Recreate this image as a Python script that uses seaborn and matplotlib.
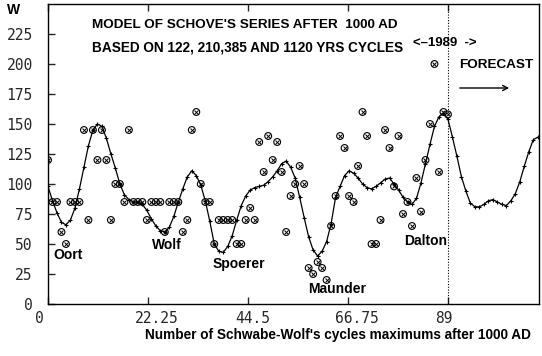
import matplotlib
matplotlib.use('Agg')
import matplotlib.pyplot as plt
import seaborn as sns
import pandas as pd
from matplotlib import transforms

# ---- data ----
obs_cycle = list(range(0, 90))
obs_w = [120, 85, 85, 60, 50, 85, 85, 85, 145, 70,
         145, 120, 145, 120, 70, 100, 100, 85, 145, 85,
         85, 85, 70, 85, 85, 85, 60, 85, 85, 85,
         60, 70, 145, 160, 100, 85, 85, 50, 70, 70,
         70, 70, 50, 50, 70, 80, 70, 135, 110, 140,
         120, 135, 110, 60, 90, 100, 115, 100, 30, 25,
         35, 30, 20, 65, 90, 140, 130, 90, 85, 115,
         160, 140, 50, 50, 70, 145, 130, 98, 140, 75,
         85, 65, 105, 77, 120, 150, 200, 110, 160, 158]

model_cycle = list(range(0, 110))
model_w = [98, 86, 76, 68, 66, 70, 80, 96, 114, 132,
           145, 150, 148, 138, 125, 113, 100, 91, 87, 85,
           85, 83, 78, 71, 65, 61, 60, 64, 73, 85,
           96, 106, 111, 107, 99, 86, 69, 50, 44, 43,
           48, 57, 70, 82, 90, 95, 97, 98, 99, 102,
           106, 111, 117, 119, 114, 105, 89, 72, 56, 45,
           40, 44, 52, 67, 89, 98, 107, 111, 109, 105,
           100, 97, 96, 98, 101, 104, 105, 100, 95, 89,
           85, 83, 88, 101, 117, 133, 148, 156, 159, 154,
           139, 123, 106, 94, 84, 81, 81, 83, 86, 87,
           85, 83, 82, 86, 92, 102, 115, 127, 137, 139]

x_ticks = [0, 22.25, 44.5, 66.75, 89]
x_tick_labels = ["0", "22.25", "44.5", "66.75", "89"]
y_ticks = [0, 25, 50, 75, 100, 125, 150, 175, 200, 225]

minima_names = ["Oort", "Wolf", "Spoerer", "Maunder", "Dalton"]
minima_px = [(53, 255), (152, 245), (213, 264), (308, 289), (404, 241)]

forecast_start = 89

obs_df = pd.DataFrame({"cycle": obs_cycle, "W": obs_w})
model_df = pd.DataFrame({"cycle": model_cycle, "W": model_w})

sns.set_style("white")
plt.rcParams['font.family'] = ['Liberation Sans', 'DejaVu Sans']

W, H = 542, 356
fig = plt.figure(figsize=(W / 100, H / 100), dpi=100)
ax = fig.add_axes([48 / W, 1 - 304 / H, (538.5 - 48) / W, 300 / H])

def fx(px):
    return px / W

def fy(py):
    return 1 - py / H

# model curve
sns.lineplot(data=model_df, x="cycle", y="W", ax=ax, color="black", lw=0.9,
             marker="+", markersize=3.5, markeredgewidth=0.8,
             markeredgecolor="black", zorder=3)
# observed points (circle with x)
sns.scatterplot(data=obs_df, x="cycle", y="W", ax=ax, marker="o", s=24,
                facecolor="none", edgecolor="black", linewidth=0.8, zorder=4)
sns.scatterplot(data=obs_df, x="cycle", y="W", ax=ax, marker="x", s=8,
                color="black", linewidth=0.7, zorder=4)

ax.axvline(forecast_start, color="black", lw=0.8, ls=(0, (1, 1.5)), zorder=2)

ax.set_xlim(0, 109.15)
ax.set_ylim(0, 250)
ax.set_xticks(x_ticks)
ax.set_xticklabels(x_tick_labels)
ax.set_yticks(y_ticks)
ax.set_xlabel("")
ax.set_ylabel("")

for sp in ax.spines.values():
    sp.set_color("black")
    sp.set_linewidth(1.0)

ax.tick_params(axis="x", direction="in", length=5, width=1, top=True, bottom=True,
               labeltop=False, pad=5)
ax.tick_params(axis="y", direction="in", length=5, width=1, left=True, right=False,
               pad=11)
for lab in ax.get_xticklabels() + ax.get_yticklabels():
    lab.set_fontfamily("DejaVu Sans Mono")
    lab.set_fontsize(10.5)
shift = transforms.ScaledTranslation(-13 / 100, 0, fig.dpi_scale_trans)
for lab in ax.get_xticklabels():
    lab.set_horizontalalignment("left")
    lab.set_transform(lab.get_transform() + shift)

txt = dict(ha="left", va="center", fontweight="bold", color="black")
fig.text(fx(7), fy(10), "W", fontsize=10, **txt)
fig.text(fx(92), fy(25), "MODEL OF SCHOVE'S SERIES AFTER  1000 AD", fontsize=9.7, **txt)
fig.text(fx(92), fy(48), "BASED ON 122, 210,385 AND 1120 YRS CYCLES", fontsize=9.8, **txt)
fig.text(fx(413), fy(43), "<\u20131989  ->", fontsize=9.5, **txt)
fig.text(fx(459), fy(65), "FORECAST", fontsize=9.7, **txt)
fig.add_artist(matplotlib.patches.FancyArrowPatch(
    (fx(457), fy(88)), (fx(512), fy(88)), transform=fig.transFigure,
    arrowstyle="->", mutation_scale=9, lw=1, color="black"))

for name, (px, py) in zip(minima_names, minima_px):
    fig.text(fx(px), fy(py), name, fontsize=10, **txt)

fig.text(fx(145), fy(335), "Number of Schwabe-Wolf's cycles maximums after 1000 AD",
         fontsize=9.85, **txt)

fig.savefig("out.png", dpi=100)
